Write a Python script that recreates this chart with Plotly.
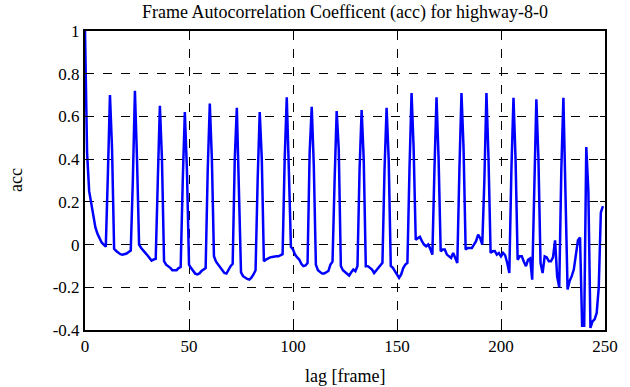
import plotly.graph_objects as go

# lag axis (frames)
lags = list(range(0, 250))

# autocorrelation coefficient, lag 0..249
acc = [
    1.00, 0.43, 0.25, 0.19, 0.12, 0.08, 0.05, 0.03, 0.01, 0.00,             # 0-9
    -0.01, 0.33, 0.70, 0.45, -0.02, -0.03, -0.04, -0.045, -0.047, -0.045,   # 10-19
    -0.042, -0.035, -0.028, 0.30, 0.72, 0.40, 0.00, -0.016, -0.03, -0.039,  # 20-29
    -0.05, -0.06, -0.075, -0.07, -0.067, 0.30, 0.65, 0.40, -0.078, -0.094,  # 30-39
    -0.10, -0.109, -0.12, -0.12, -0.12, -0.11, -0.105, 0.30, 0.62, 0.35,    # 40-49
    -0.094, -0.11, -0.125, -0.136, -0.14, -0.135, -0.124, -0.115, -0.11, 0.35,  # 50-59
    0.66, 0.40, -0.055, -0.08, -0.094, -0.11, -0.124, -0.133, -0.136, -0.117,  # 60-69
    -0.101, -0.09, 0.40, 0.64, 0.30, -0.13, -0.148, -0.155, -0.161, -0.164,    # 70-79
    -0.155, -0.14, -0.12, 0.30, 0.62, 0.40, -0.078, -0.07, -0.063, -0.06,      # 80-89
    -0.058, -0.055, -0.055, -0.055, -0.05, -0.045, 0.40, 0.69, 0.35, -0.01,    # 90-99
    -0.023, -0.047, -0.06, -0.07, -0.09, -0.101, -0.098, -0.086, 0.43, 0.645,  # 100-109
    0.37, -0.094, -0.12, -0.13, -0.136, -0.136, -0.13, -0.124, -0.094, -0.08,  # 110-119
    0.30, 0.625, 0.445, -0.10, -0.12, -0.128, -0.133, -0.145, -0.13, -0.117,   # 120-129
    -0.125, -0.10, 0.35, 0.63, 0.40, -0.101, -0.101, -0.11, -0.117, -0.133,   # 130-139
    -0.12, -0.109, -0.094, -0.085, 0.35, 0.64, 0.40, -0.10, -0.109, -0.125,   # 140-149
    -0.14, -0.156, -0.14, -0.11, -0.094, -0.086, 0.35, 0.71, 0.45, 0.023,     # 150-159
    0.03, 0.036, 0.016, 0.00, -0.008, 0.00, -0.02, -0.047, 0.35, 0.69,        # 160-169
    0.40, -0.031, -0.023, -0.023, -0.047, -0.055, -0.063, -0.039, -0.06, -0.086,  # 170-179
    0.35, 0.71, 0.45, -0.023, -0.016, -0.016, -0.016, 0.00, 0.016, 0.047,     # 180-189
    0.03, 0.00, 0.30, 0.71, 0.40, -0.039, -0.031, -0.03, -0.047, -0.04,       # 190-199
    -0.055, -0.039, -0.05, -0.086, -0.133, 0.35, 0.687, 0.40, -0.071, -0.055, # 200-209
    -0.055, -0.08, -0.101, -0.071, -0.065, -0.164, 0.35, 0.68, 0.40, -0.086,  # 210-219
    -0.133, -0.055, -0.06, -0.078, -0.078, -0.06, 0.02, -0.15, -0.20, 0.35,   # 220-229
    0.687, 0.30, -0.21, -0.17, -0.148, -0.117, -0.04, 0.02, 0.033, -0.38,     # 230-239
    -0.38, 0.457, 0.25, -0.39, -0.36, -0.35, -0.32, -0.20, 0.15, 0.18,        # 240-249
]

x_ticks = [0, 50, 100, 150, 200, 250]
x_tick_labels = ["0", "50", "100", "150", "200", "250"]
y_ticks = [-0.4, -0.2, 0, 0.2, 0.4, 0.6, 0.8, 1]
y_tick_labels = ["-0.4", "-0.2", "0", "0.2", "0.4", "0.6", "0.8", "1"]

title_text = "Frame Autocorrelation Coefficent (acc) for highway-8-0"
x_label = "lag [frame]"
y_label = "acc"

FONT = "Liberation Serif"

fig = go.Figure()
fig.add_trace(go.Scatter(
    x=lags, y=acc, mode="lines",
    line=dict(color="#0000ff", width=2.5),
    showlegend=False, hoverinfo="skip",
))

axis_common = dict(
    showline=True, linecolor="black", linewidth=2, mirror="allticks",
    ticks="inside", ticklen=5, tickcolor="black", tickwidth=1,
    showgrid=True, gridcolor="black", gridwidth=1, griddash="dash",
    zeroline=False,
    tickfont=dict(family=FONT, size=17, color="black"),
)

fig.update_xaxes(range=[0, 250], tickvals=x_ticks, ticktext=x_tick_labels, **axis_common)
fig.update_yaxes(range=[-0.4, 1], tickvals=y_ticks, ticktext=y_tick_labels, **axis_common)

fig.update_layout(
    width=630, height=387,
    margin=dict(l=85, r=21, t=31, b=57),
    paper_bgcolor="white", plot_bgcolor="white",
    font=dict(family=FONT, color="black"),
    title=dict(text=title_text, x=0.5, xref="paper", y=1 - 12 / 387, yref="container",
               xanchor="center", yanchor="middle",
               font=dict(family=FONT, size=18, color="black")),
    annotations=[
        dict(text=x_label, xref="paper", yref="paper", x=0.5, y=-46 / 299,
             xanchor="center", yanchor="middle", showarrow=False,
             font=dict(family=FONT, size=18, color="black")),
        dict(text=y_label, xref="paper", yref="paper", x=-70 / 524, y=0.5,
             xanchor="center", yanchor="middle", showarrow=False, textangle=-90,
             font=dict(family=FONT, size=18, color="black")),
    ],
)

fig.write_html("out.html", config={"displayModeBar": False},
               post_script="document.body.style.margin='0';")
